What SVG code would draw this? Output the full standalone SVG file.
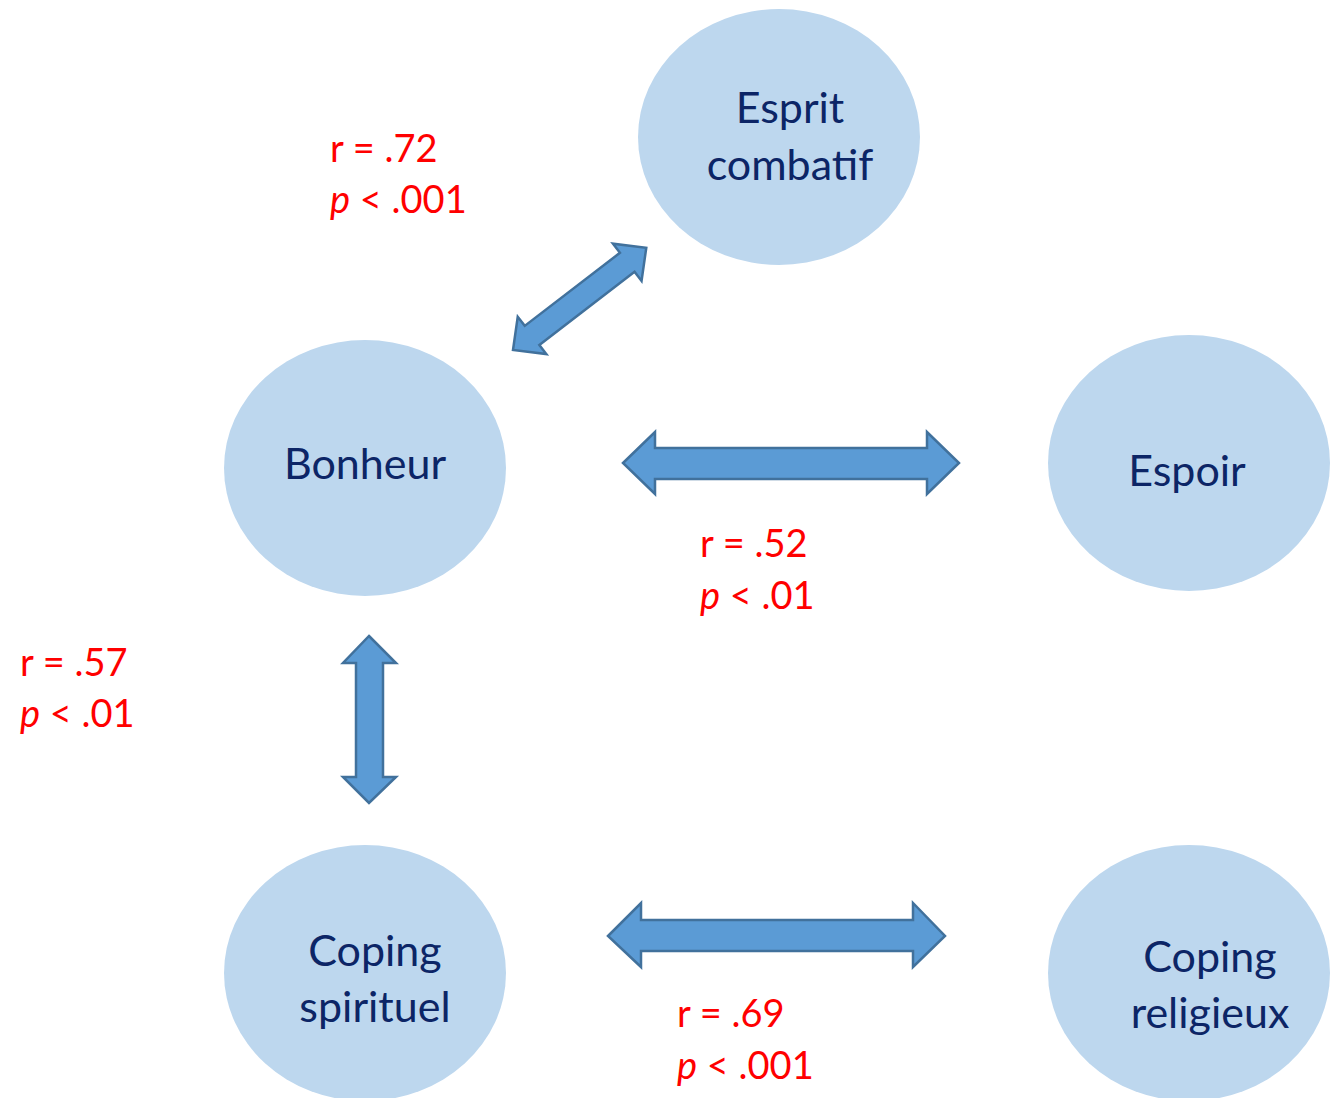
<svg xmlns="http://www.w3.org/2000/svg" width="1343" height="1098" viewBox="0 0 1343 1098">
<style>
.node{fill:#BDD7EE;}
.nt{font-family:Lato,"Open Sans","Liberation Sans",sans-serif;font-size:43px;fill:#0C2566;text-anchor:middle;}
.lab{font-family:Lato,"Open Sans","Liberation Sans",sans-serif;font-size:38px;fill:#FF0000;}
.arr{fill:#5B9BD5;stroke:#41719C;stroke-width:2.5;stroke-linejoin:miter;}
</style>
<rect width="1343" height="1098" fill="#FFFFFF"/>
<g id="connectors">
<polygon class="arr" transform="translate(513,350) rotate(-37.5)" points="0,0 24,-23.5 24,-12 144,-12 144,-23.5 168,0 144,23.5 144,12 24,12 24,23.5"/>
<polygon class="arr" points="623,463 655,432 655,448 927,448 927,432 959,463 927,494 927,479 655,479 655,494"/>
<polygon class="arr" points="369,636 396,663 383,663 383,777 396,777 369,803 343,777 356,777 356,663 343,663"/>
<polygon class="arr" points="608,936 641,903 641,920 913,920 913,903 945,936 913,967 913,951 641,951 641,967"/>
</g>
<g id="esprit">
<ellipse class="node" cx="779" cy="137" rx="141" ry="128"/>
<text class="nt" x="790" y="123">Esprit</text>
<text class="nt" x="790" y="180">combatif</text>
</g>
<g id="bonheur">
<ellipse class="node" cx="365" cy="468" rx="141" ry="128"/>
<text class="nt" x="365" y="479">Bonheur</text>
</g>
<g id="espoir">
<ellipse class="node" cx="1189" cy="463" rx="141" ry="128"/>
<text class="nt" x="1187" y="486">Espoir</text>
</g>
<g id="coping-spirituel">
<ellipse class="node" cx="365" cy="973" rx="141" ry="128"/>
<text class="nt" x="375" y="966">Coping</text>
<text class="nt" x="375" y="1022">spirituel</text>
</g>
<g id="coping-religieux">
<ellipse class="node" cx="1189" cy="973" rx="141" ry="128"/>
<text class="nt" x="1210" y="972">Coping</text>
<text class="nt" x="1210" y="1028">religieux</text>
</g>
<g id="labels">
<text class="lab" x="330" y="162">r = .72</text>
<text class="lab" x="330" y="213"><tspan font-style="italic">p</tspan> &lt; .001</text>
<text class="lab" x="700" y="557">r = .52</text>
<text class="lab" x="700" y="609"><tspan font-style="italic">p</tspan> &lt; .01</text>
<text class="lab" x="20" y="676">r = .57</text>
<text class="lab" x="20" y="727"><tspan font-style="italic">p</tspan> &lt; .01</text>
<text class="lab" x="677" y="1027">r = .69</text>
<text class="lab" x="677" y="1079"><tspan font-style="italic">p</tspan> &lt; .001</text>
</g>
</svg>
